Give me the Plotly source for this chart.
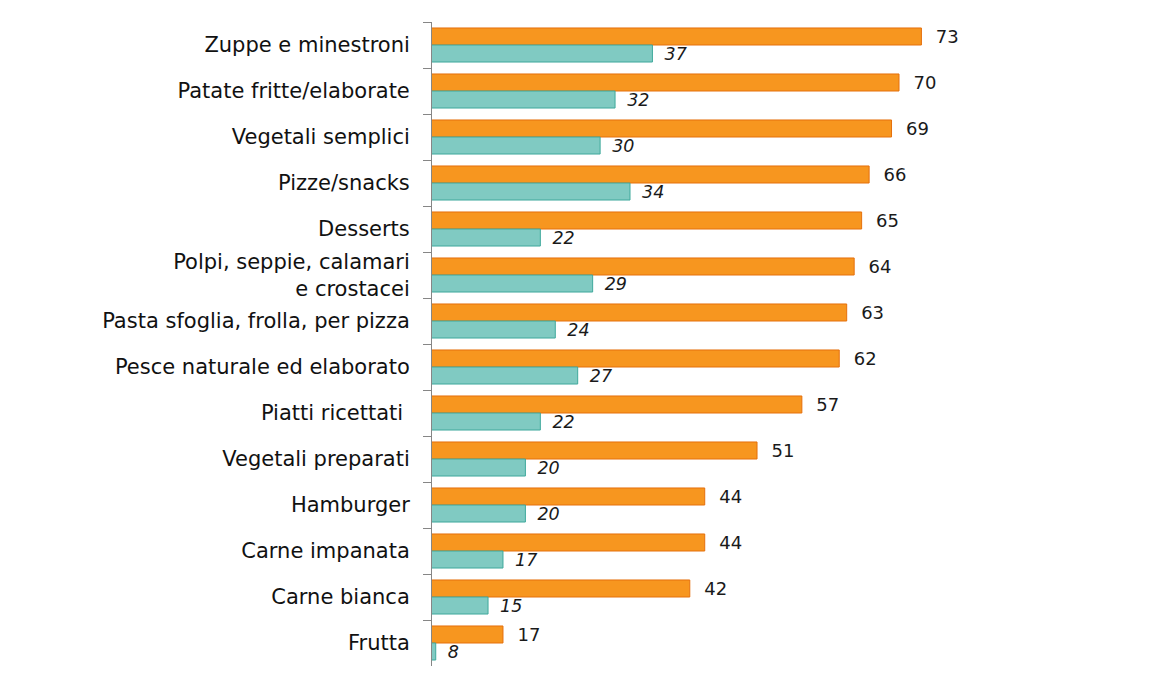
import plotly.graph_objects as go

categories = [
    "Zuppe e minestroni",
    "Patate fritte/elaborate",
    "Vegetali semplici",
    "Pizze/snacks",
    "Desserts",
    "Polpi, seppie, calamari<br>e crostacei",
    "Pasta sfoglia, frolla, per pizza",
    "Pesce naturale ed elaborato",
    "Piatti ricettati\u00a0",
    "Vegetali preparati",
    "Hamburger",
    "Carne impanata",
    "Carne bianca",
    "Frutta",
]
orange_values = [73, 70, 69, 66, 65, 64, 63, 62, 57, 51, 44, 44, 42, 17]
teal_values = [37, 32, 30, 34, 22, 29, 24, 27, 22, 20, 20, 17, 15, 8]

fig = go.Figure()
fig.add_trace(go.Bar(
    y=categories, x=orange_values, orientation="h",
    marker=dict(color="#F7961F", line=dict(color="#E5700C", width=1)),
    text=orange_values, texttemplate="\u00a0\u00a0%{x}", textposition="outside",
    textfont=dict(family="DejaVu Sans", size=18, color="#1a1a1a"),
    cliponaxis=False, constraintext="none", showlegend=False,
))
fig.add_trace(go.Bar(
    y=categories, x=teal_values, orientation="h",
    marker=dict(color="#80CAC2", line=dict(color="#3FA99C", width=1)),
    text=teal_values, texttemplate="\u00a0\u2009%{x}", textposition="outside",
    textfont=dict(family="DejaVu Sans", size=17.5, color="#1a1a1a", style="italic"),
    cliponaxis=False, constraintext="none", showlegend=False,
))

fig.update_layout(
    width=1150, height=689,
    barmode="group", bargap=0.26, bargroupgap=0,
    plot_bgcolor="white", paper_bgcolor="white",
    margin=dict(l=424, r=58, t=14, b=31),
    font=dict(family="DejaVu Sans", size=21, color="#111111"),
    xaxis=dict(range=[7.5, 96.9], visible=False, showgrid=False, zeroline=False),
    yaxis=dict(
        type="category", autorange="reversed",
        showline=True, linecolor="#868686", linewidth=1,
        ticks="outside", tickson="boundaries", ticklen=8, tickcolor="#868686",
        ticklabelstandoff=17, showgrid=False,
        tickfont=dict(family="DejaVu Sans", size=21, color="#111111"),
    ),
)

fig.write_html("out.html")
